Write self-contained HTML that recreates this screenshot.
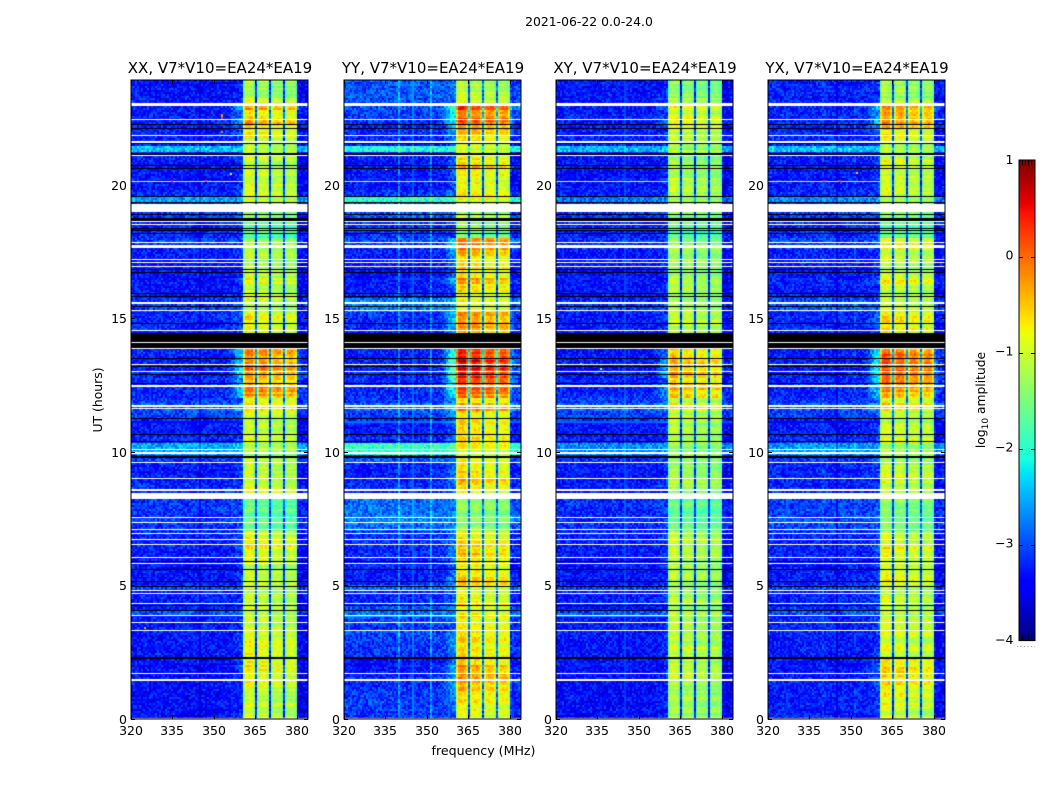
<!DOCTYPE html>
<html>
<head>
<meta charset="utf-8">
<title>2021-06-22 dynamic spectra</title>
<style>
html,body{margin:0;padding:0;background:#fff;}
#stage{position:relative;width:1050px;height:800px;overflow:hidden;background:#fff;}
#heat,#overlay{position:absolute;left:0;top:0;}
text{font-family:"DejaVu Sans","Liberation Sans",sans-serif;fill:#000;}
</style>
</head>
<body>
<div id="stage">
<canvas id="heat" width="1050" height="800"></canvas>
<svg id="overlay" width="1050" height="800" xmlns="http://www.w3.org/2000/svg"></svg>
</div>
<script>
/* ---------- categories and tick labels ---------- */
const panelTitles = ["XX, V7*V10=EA24*EA19","YY, V7*V10=EA24*EA19","XY, V7*V10=EA24*EA19","YX, V7*V10=EA24*EA19"];
const freqTicks = [320,335,350,365,380];
const hourTicks = [0,5,10,15,20];
const colorbarTicks = [1,0,-1,-2,-3,-4];

/* ---------- band level, log10 amplitude, one value per 0.25 h from 0 h ---------- */
const bandXX = [-1.05,-1.0,-1.0,-.95,-.95,-.9,-.8,-.65,-.8,-.85,-.7,-.85,-.95,-1.0,-1.05,-1.05,
-1.1,-1.0,-1.05,-1.15,-1.05,-1.0,-1.05,-.9,-.8,-.75,-.85,-1.0,-1.55,-1.6,-1.65,-1.55,
-1.5,-1.0,-1.0,-1.0,-.95,-1.05,-1.1,-1.2,-1.15,-.95,-1.0,-1.05,-1.05,-1.0,-.55,-.85,
-.2,-.15,-.5,-.1,-.05,-.15,-.25,-.25,-.8,-.8,-.85,-.7,-.75,-1.0,-.95,-1.1,
-1.05,-.75,-1.05,-1.1,-1.15,-1.1,-1.1,-1.35,-1.7,-1.6,-1.5,-1.3,-.9,-1.0,-.95,-.95,
-.9,-.95,-1.0,-1.05,-1.1,-1.15,-.95,-.75,-.55,-.35,-.6,-.25,-1.0,-1.25,-1.2,-1.15];
const bandYY = [-.95,-.85,-.7,-.6,-.45,-.35,-.4,-.3,-.45,-.7,-.55,-.7,-.75,-.8,-.8,-.75,
-.8,-.7,-.75,-.8,-.45,-.6,-.65,-.6,-.55,-.45,-.7,-.85,-1.4,-1.45,-1.45,-1.35,
-1.3,-.7,-.7,-.5,-.65,-.6,-.8,-.9,-.85,-.6,-.7,-.65,-.7,-.65,-.25,-.55,
-.05,.1,.3,.45,.55,.5,.4,.2,-.5,-.5,-.3,-.25,-.25,-.8,-.75,-.85,
-.7,-.25,-.55,-.6,-.6,-.55,-.1,-.2,-1.5,-1.4,-1.3,-1.15,-.8,-.85,-.75,-.75,
-.75,-.7,-.5,-.55,-.9,-1.0,-.7,-.5,-.2,.1,-.1,.2,-.9,-1.15,-1.15,-1.1];
const bandXY = [-1.15,-1.1,-1.1,-1.05,-1.05,-1.0,-.95,-.85,-.95,-1.0,-.9,-1.0,-1.05,-1.1,-1.1,-1.1,
-1.15,-1.1,-1.1,-1.2,-1.1,-1.05,-1.1,-1.0,-.95,-.9,-1.0,-1.1,-1.5,-1.5,-1.55,-1.45,
-1.45,-1.1,-1.1,-1.05,-1.05,-1.1,-1.15,-1.25,-1.2,-1.05,-1.1,-1.1,-1.1,-1.05,-.6,-.95,
-.4,-.3,-.65,-.25,-.2,-.3,-.4,-.4,-.95,-.95,-1.0,-.85,-.9,-1.1,-1.05,-1.15,
-1.1,-.9,-1.1,-1.15,-1.2,-1.15,-1.15,-1.4,-1.75,-1.65,-1.55,-1.35,-1.0,-1.1,-1.05,-1.05,
-1.0,-1.05,-1.1,-1.1,-1.15,-1.2,-1.05,-.95,-.8,-.6,-.85,-.55,-1.1,-1.3,-1.25,-1.2];
const bandYX = [-1.05,-.95,-.85,-.75,-.65,-.55,-.6,-.55,-.65,-.85,-.75,-.9,-.9,-.95,-.95,-.95,
-1.0,-.9,-.95,-1.0,-.75,-.85,-.9,-.85,-.8,-.7,-.9,-1.0,-1.45,-1.45,-1.5,-1.4,
-1.35,-.95,-.95,-.85,-.9,-.95,-1.05,-1.15,-1.1,-.85,-.95,-.95,-1.0,-.95,-.5,-.75,
-.2,-.1,-.05,.1,.2,.15,.1,-.05,-.8,-.8,-.7,-.6,-.65,-1.0,-.95,-1.05,
-.95,-.65,-.9,-.95,-.95,-.9,-.7,-.9,-1.6,-1.55,-1.45,-1.3,-.95,-1.0,-.95,-.95,
-.9,-.9,-.8,-.85,-1.1,-1.15,-.9,-.75,-.45,-.2,-.35,-.05,-1.0,-1.2,-1.2,-1.15];
const bandOffsets = [-.03,0,-.12,-.08];

/* ---------- out-of-band background level, one value per 0.25 h from 0 h ---------- */
const bgXX = [-3.15,-3.15,-3.15,-3.15,-3.15,-3.15,-3.15,-3.15,-3.1,-3.1,-3.1,-3.1,-3.1,-3.1,-3.1,-2.75,
-3.1,-3.05,-3.05,-2.85,-3.1,-3.1,-3.1,-3.1,-3.05,-3.05,-3.05,-3.05,-2.95,-2.9,-2.95,-2.9,
-2.9,-3.0,-3.0,-3.05,-3.05,-3.05,-2.9,-3.0,-3.0,-3.0,-3.1,-3.1,-2.95,-2.85,-2.75,-2.9,
-3.0,-3.0,-3.0,-3.0,-3.05,-3.05,-3.05,-3.05,-3.1,-3.1,-3.0,-3.0,-3.0,-2.85,-2.95,-3.1,
-3.1,-3.1,-3.1,-3.1,-3.1,-3.05,-3.05,-2.9,-3.0,-3.0,-3.0,-2.9,-3.0,-3.0,-3.0,-3.1,
-3.1,-3.1,-3.1,-3.1,-3.05,-3.05,-3.05,-3.05,-3.05,-3.05,-3.05,-3.05,-3.1,-3.1,-3.1,-3.1];
const bgYY = [-2.8,-2.75,-2.75,-2.75,-2.8,-2.85,-2.95,-2.95,-2.95,-2.8,-2.75,-2.75,-2.7,-2.85,-2.7,-2.5,
-2.6,-2.85,-2.85,-2.5,-2.9,-2.9,-2.9,-2.9,-2.85,-2.85,-2.8,-2.8,-2.55,-2.4,-2.45,-2.5,
-2.5,-2.85,-2.85,-2.9,-2.9,-2.85,-2.6,-2.8,-2.8,-2.85,-2.95,-2.95,-2.8,-2.7,-2.55,-2.75,
-2.85,-2.85,-2.85,-2.9,-2.9,-2.9,-2.9,-2.9,-2.95,-2.95,-2.85,-2.85,-2.8,-2.4,-2.4,-2.9,
-2.95,-2.9,-2.95,-2.95,-2.95,-2.9,-2.9,-2.7,-2.8,-2.8,-2.8,-2.6,-2.8,-2.8,-2.8,-2.95,
-2.95,-2.95,-2.95,-2.95,-2.85,-2.85,-2.85,-2.85,-2.9,-2.85,-2.7,-2.65,-2.65,-2.6,-2.6,-2.55];
const bgXY = [-3.15,-3.15,-3.15,-3.15,-3.15,-3.15,-3.15,-3.15,-3.1,-3.1,-3.1,-3.1,-3.1,-3.1,-3.1,-2.8,
-3.1,-3.05,-3.05,-2.9,-3.1,-3.1,-3.1,-3.1,-3.1,-3.05,-3.05,-3.05,-3.0,-2.95,-3.0,-2.95,
-2.95,-3.05,-3.05,-3.1,-3.1,-3.05,-2.95,-3.05,-3.05,-3.05,-3.1,-3.1,-2.95,-2.85,-2.7,-2.85,
-3.0,-3.05,-3.05,-3.05,-3.1,-3.1,-3.1,-3.1,-3.15,-3.1,-3.05,-3.05,-3.05,-2.9,-3.0,-3.1,
-3.1,-3.1,-3.1,-3.1,-3.1,-3.1,-3.05,-2.95,-3.05,-3.05,-3.05,-2.95,-3.05,-3.05,-3.05,-3.1,
-3.1,-3.1,-3.1,-3.1,-3.05,-3.05,-3.05,-3.05,-3.05,-3.05,-3.05,-3.05,-3.1,-3.1,-3.1,-3.1];
const bgYX = [-3.05,-3.05,-3.05,-3.05,-3.05,-3.05,-3.1,-3.1,-3.1,-3.05,-3.05,-3.05,-3.05,-3.05,-3.0,-2.75,
-2.95,-3.0,-3.0,-2.8,-3.05,-3.05,-3.05,-3.05,-3.0,-3.0,-3.0,-3.0,-2.85,-2.8,-2.85,-2.85,
-2.85,-3.0,-3.0,-3.0,-3.0,-3.0,-2.85,-3.0,-3.0,-3.0,-3.05,-3.05,-2.95,-2.85,-2.75,-2.9,
-3.0,-3.0,-3.0,-3.0,-3.05,-3.05,-3.05,-3.05,-3.05,-3.05,-3.0,-3.0,-3.0,-2.75,-2.8,-3.05,
-3.05,-3.0,-3.05,-3.05,-3.05,-3.0,-3.0,-2.85,-2.95,-2.95,-2.95,-2.85,-3.0,-3.0,-3.0,-3.05,
-3.05,-3.05,-3.05,-3.05,-3.0,-3.0,-3.0,-3.0,-3.0,-3.0,-3.0,-3.0,-3.0,-3.0,-3.0,-3.0];
const bgOffsets = [-.22,-.36,-.22,-.24];

/* ---------- bright background strips: time range and level per panel ---------- */
const stripStartHours = [21.3,19.37,9.9];
const stripEndHours = [21.41,19.57,10.3];
const stripLevelsXX = [-2.45,-2.6,-2.55];
const stripLevelsYY = [-2.05,-2.0,-1.95];
const stripLevelsXY = [-2.5,-2.8,-2.7];
const stripLevelsYX = [-2.45,-2.7,-2.6];
const panelStrips = [stripLevelsXX,stripLevelsYY,stripLevelsXY,stripLevelsYX];

/* ---------- spectral shape: 88 channels from 320 MHz, 0 = background, 1 = full band ---------- */
const channelWeights = [
0,0,0,0,0,0,0,0,0,0, 0,0,0,0,0,0,0,0,0,0,
0,0,0,0,0,0,0,0,0,0, 0,0,0,0,0,0,0,0,0,0,
0,0,0,0,0,0,0,0,0,0, 0,.02,.03,.04,.05,.08,
.86,1.02,1.04,1.04,1.02,.9,.06,
.88,.98,1,1,.98,.88,.06,
.85,.94,.96,.96,.94,.85,.06,
.84,.92,.95,.95,.92,.82,
-.06,-.08,-.08,-.06,-.04];
const channelSkirt = [
0,0,0,0,0,0,0,0,0,0, 0,0,0,0,0,0,0,0,0,0,
0,0,0,0,0,0,0,0,0,0, 0,0,0,0,0,0,0,0,0,0,
0,0,0,0,0,0,0,.03,.08,.18, .35,.5,.7,.85,.9,.8,
0,0,0,0,0,0,.6,
0,0,0,0,0,0,.6,
0,0,0,0,0,0,.6,
0,0,0,0,0,0,
.7,.55,.45,.35,.3];

/* ---------- flagged time ranges [upper, lower] shared by all panels ---------- */
const whiteFlags = [[23.117,23.005],[22.516,22.479],[21.915,21.878],[21.69,21.634],[21.164,21.127],[19.343,19.042],
[18.704,18.667],[18.592,18.554],[17.897,17.859],[17.784,17.69],[17.258,17.221],[17.146,17.108],[16.995,16.958],
[15.662,15.587],[15.343,15.305],[14.592,14.554],[14.141,14.103],[13.934,13.897],[13.333,13.296],[13.07,13.014],
[12.526,12.469],[11.775,11.718],[11.681,11.643],[10.141,10.103],[10.028,9.953],[9.653,9.615],[9.052,9.014],
[8.638,8.563],[8.488,8.263],[7.587,7.549],[7.399,7.362],[7.117,7.08],[6.986,6.948],[6.761,6.723],[6.573,6.535],
[6.085,6.047],[5.859,5.822],[4.845,4.789],[4.732,4.676],[4.357,4.319],[3.906,3.85],[3.643,3.606],[3.343,3.305],
[1.728,1.69],[1.502,1.427],[0.056,0]];
const blackFlags = [[22.329,22.291],[22.178,22.141],[21.615,21.577],[21.258,21.183],[20.789,20.751],[20.676,20.638],
[19.624,19.587],[19.4,19.362],[18.948,18.911],[18.817,18.704],[18.441,18.404],[18.347,18.31],[18.254,18.216],
[16.883,16.845],[16.77,16.732],[15.981,15.944],[15.887,15.85],[15.493,15.455],[14.854,14.817],[14.498,14.141],
[14.103,13.934],[13.54,13.502],[13.239,13.202],[12.939,12.901],[12.601,12.563],[11.305,11.268],[10.685,10.648],
[10.423,10.385],[9.878,9.803],[5.934,5.897],[5.615,5.577],[5.164,5.127],[4.995,4.958],[4.282,4.244],[4.075,4.038],[2.31,2.272]];
const flagHourScale = 0.9972;

/* ---------- narrow interference features ---------- */
const rfiRowHours = [20.14];
const rfiRowLevels = [-1.05];
const rfiColumnFreqs = [339.8,351.7];
const rfiColumnBoost = [[0,0],[.5,.5],[0,0],[.15,.15]];
const hotPanels = [0,0,0,0,0,0,0,1,1,2,2,3,3,3,3];
const hotFreqs  = [352.7,352.7,352.7,334.6,347,356,325,352.7,335,329,336,346,352,340,328];
const hotHours  = [22.6,22.52,21.98,20.14,20.14,20.4,3.4,14.3,20.6,13.3,13.1,20.14,20.45,20.14,18.9];
const hotLevels = [-.2,.2,-.1,.35,.2,-1,-.3,-1,-1.2,-1.4,-1.4,.3,-.5,.2,-.5];

/* ---------- hand-typed channel scatter, used to give the cells their speckled look ---------- */
const speckle = [.42,-.61,.13,.87,-.28,-.93,.55,.06,-.47,.71,-.14,.33,-.79,.24,.95,-.36,-.08,.62,-.55,.18,
-.84,.49,.02,-.22,.77,-.66,.38,-.11,.91,-.43,.27,-.72,.59,-.03,-.98,.15,.68,-.31,.44,-.59,
.81,-.19,.09,-.75,.52,.35,-.88,.21,-.39,.64,-.06,.98,-.52,.11,-.27,.74,-.69,.29,.47,-.16,
-.83,.57,.04,-.34,.89,-.49,.17,-.77,.39,.66,-.24,-.01,-.91,.51,.26,-.63,.79,-.12,.31,-.44,
.08,.93,-.57,.19,-.71,.45,-.37,.6,-.09,-.86,.36,.73,-.21,.12,-.53,.85,-.4];

const panelBand = [bandXX,bandYY,bandXY,bandYX];
const panelBg = [bgXX,bgYY,bgXY,bgYX];

/* ---------- geometry and axis functions ---------- */
const panelLefts = [131,344,556,768];
const axTop = 80, axBottom = 719, axWidth = 177;
const FREQ_MIN = 320, FREQ_MAX = 384, HOUR_MAX = 23.93;
const CH_WIDTH = (FREQ_MAX-FREQ_MIN)/channelWeights.length;
const ROW_COUNT = 320, ROW_HOURS = HOUR_MAX/ROW_COUNT;
function xScale(p,f){return panelLefts[p]+(f-FREQ_MIN)/(FREQ_MAX-FREQ_MIN)*axWidth;}
function yScale(h){return axBottom-h/HOUR_MAX*(axBottom-axTop);}
const cbLeft = 1019, cbRight = 1035, cbTop = 160.5, cbBottom = 640.5;
function cbScale(v){return cbBottom-(v+4)/5*(cbBottom-cbTop);}

function piece(pts,t){
  for(let i=1;i<pts.length;i++){
    if(t<=pts[i][0]){
      const a=pts[i-1],b=pts[i];
      return a[1]+(b[1]-a[1])*(t-a[0])/(b[0]-a[0]);
    }
  }
  return pts[pts.length-1][1];
}
const jetR=[[0,0],[.35,0],[.66,1],[.89,1],[1,.5]];
const jetG=[[0,0],[.125,0],[.375,1],[.64,1],[.91,0],[1,0]];
const jetB=[[0,.5],[.11,1],[.34,1],[.65,0],[1,0]];
function jet(v){
  const t=Math.max(0,Math.min(1,(v+4)/5));
  return 'rgb('+Math.round(piece(jetR,t)*255)+','+Math.round(piece(jetG,t)*255)+','+Math.round(piece(jetB,t)*255)+')';
}

/* ---------- heatmap cells ---------- */
const ctx = document.getElementById('heat').getContext('2d');
function fillBox(x0,y0,x1,y1,color){
  const a=Math.floor(x0+.001),b=Math.round(y0);
  ctx.fillStyle=color;
  ctx.fillRect(a,b,Math.max(1,Math.floor(x1+.001)-a),Math.max(1,Math.round(y1)-b));
}
panelTitles.forEach(function(_,p){
  const band=panelBand[p], bgs=panelBg[p], strips=panelStrips[p];
  for(let r=0;r<ROW_COUNT;r++){
    const h0=r*ROW_HOURS, h1=h0+ROW_HOURS, idx=Math.floor(h0/.25);
    const rowTex=speckle[(r*13+p*29)%speckle.length];
    let bg=bgs[idx]+bgOffsets[p];
    stripStartHours.forEach(function(s,k){
      if(h1>s&&h0<stripEndHours[k]) bg=strips[k];
    });
    const bandLevel=band[idx]+bandOffsets[p];
    for(let c=0;c<channelWeights.length;c++){
      const f0=FREQ_MIN+c*CH_WIDTH, f1=f0+CH_WIDTH;
      const w=channelWeights[c], s=channelSkirt[c];
      const tex=speckle[(c*31+r*53+c*r*7+p*11)%speckle.length];
      const amp=w>.5?.2:.38;
      let v=bg+w*(bandLevel-bg)+s*Math.max(0,bandLevel+.9)+tex*amp+(w>.5?rowTex*.22:rowTex*.05);
      rfiColumnFreqs.forEach(function(fc,k){
        if(fc>=f0&&fc<f1) v+=rfiColumnBoost[p][k];
      });
      fillBox(xScale(p,f0),yScale(h1),xScale(p,f1),yScale(h0),jet(v));
    }
  }
  rfiRowHours.forEach(function(h,k){
    for(let c=0;c<56;c++){
      const f0=FREQ_MIN+c*CH_WIDTH;
      const tex=speckle[(c*17+p*5)%speckle.length];
      fillBox(xScale(p,f0),yScale(h+.02),xScale(p,f0+CH_WIDTH),yScale(h-.02),jet(rfiRowLevels[k]+tex*.3));
    }
  });
  hotFreqs.forEach(function(f,k){
    if(hotPanels[k]===p){
      fillBox(xScale(p,f),yScale(hotHours[k]+.04),xScale(p,f+CH_WIDTH),yScale(hotHours[k]-.04),jet(hotLevels[k]));
    }
  });
  whiteFlags.forEach(function(b){
    fillBox(xScale(p,FREQ_MIN),yScale(b[0]*flagHourScale),xScale(p,FREQ_MAX),yScale(b[1]*flagHourScale),'#fff');
  });
  blackFlags.forEach(function(b){
    fillBox(xScale(p,FREQ_MIN),yScale(b[0]*flagHourScale),xScale(p,FREQ_MAX),yScale(b[1]*flagHourScale),'#000');
  });
});

/* ---------- colourbar cells ---------- */
for(let y=Math.floor(cbTop);y<cbBottom;y++){
  const v=-4+(cbBottom-y-.5)/(cbBottom-cbTop)*5;
  ctx.fillStyle=jet(v);
  ctx.fillRect(cbLeft,y,cbRight-cbLeft,1);
}

/* ---------- svg overlay ---------- */
const NS='http://www.w3.org/2000/svg';
const svg=document.getElementById('overlay');
function mk(tag,attrs,parent){
  const el=document.createElementNS(NS,tag);
  Object.keys(attrs).forEach(function(k){el.setAttribute(k,attrs[k]);});
  (parent||svg).appendChild(el);
  return el;
}
function label(name,x,y,str,size,anchor,parent){
  const el=mk('text',{x:x,y:y,'font-size':size,'text-anchor':anchor},parent);
  
  
  el.textContent=str;
  return el;
}
function tick(name,x1,y1,x2,y2,parent){
  const el=mk('line',{x1:x1,y1:y1,x2:x2,y2:y2,stroke:'#000','stroke-width':1},parent);
  
  
  return el;
}

panelTitles.forEach(function(title,p){
  const g=mk('g',{});
  
  
  const L=panelLefts[p];
  const frame=mk('rect',{x:L,y:axTop,width:axWidth,height:axBottom-axTop,fill:'none',stroke:'#000','stroke-width':1},g);
  
  
  freqTicks.forEach(function(f){
    const x=Math.round(xScale(p,f))+.5;
    tick('x-tick',x,axBottom,x,axBottom-4,g);
    tick('x-tick-top',x,axTop,x,axTop+4,g);
    label('x-tick-label',x-.5,735,String(f),12.5,'middle',g);
  });
  hourTicks.forEach(function(h){
    const y=Math.round(yScale(h))+.5;
    tick('y-tick',L,y,L+4,y,g);
    tick('y-tick-right',L+axWidth,y,L+axWidth-4,y,g);
    label('y-tick-label',L-4,y+4.5,String(h),12.5,'end',g);
  });
  label('panel-title',L+89,73,title,15,'middle',g);
});

label('figure-title',589,26,'2021-06-22 0.0-24.0',12.4,'middle');
label('x-axis-title',483.5,755,'frequency (MHz)',12.6,'middle');
const yt=label('y-axis-title',0,0,'UT (hours)',12.4,'middle');
yt.setAttribute('transform','translate(102,400) rotate(-90)');

/* colourbar furniture */
const cb=mk('g',{});


const cbFrame=mk('rect',{x:cbLeft,y:cbTop-.5,width:cbRight-cbLeft,height:cbBottom-cbTop+.5,fill:'none',stroke:'#000','stroke-width':1},cb);


colorbarTicks.forEach(function(v){
  const y=Math.round(cbScale(v))+.5;
  if(v>-4&&v<1){
    tick('colorbar-tick',cbLeft,y,cbLeft+4,y,cb);
    tick('colorbar-tick',cbRight-4,y,cbRight,y,cb);
  }
  label('colorbar-tick-label',1013.5,y+(v===1?2.5:v===-4?2.5:2),(v<0?'\u2212':'')+Math.abs(v),12.5,'end',cb);
});
[1022.5,1025.5,1028.5,1031.5].forEach(function(x){
  tick('colorbar-minor-tick',x,cbTop,x,cbTop+5,cb);
  tick('colorbar-minor-tick',x,cbBottom,x,cbBottom-5,cb);
});
const dots=mk('line',{x1:1017,y1:646.5,x2:1035,y2:646.5,stroke:'#999','stroke-width':1,'stroke-dasharray':'1 2.5'},cb);


const cbt=label('colorbar-title',0,0,'',12.3,'middle',cb);
cbt.setAttribute('transform','translate(985,400) rotate(-90)');
cbt.appendChild(document.createTextNode('log'));
const sub=mk('tspan',{'font-size':9,dy:3},cbt);
sub.textContent='10';
const rest=mk('tspan',{dy:-3},cbt);
rest.textContent=' amplitude';
</script>
</body>
</html>
